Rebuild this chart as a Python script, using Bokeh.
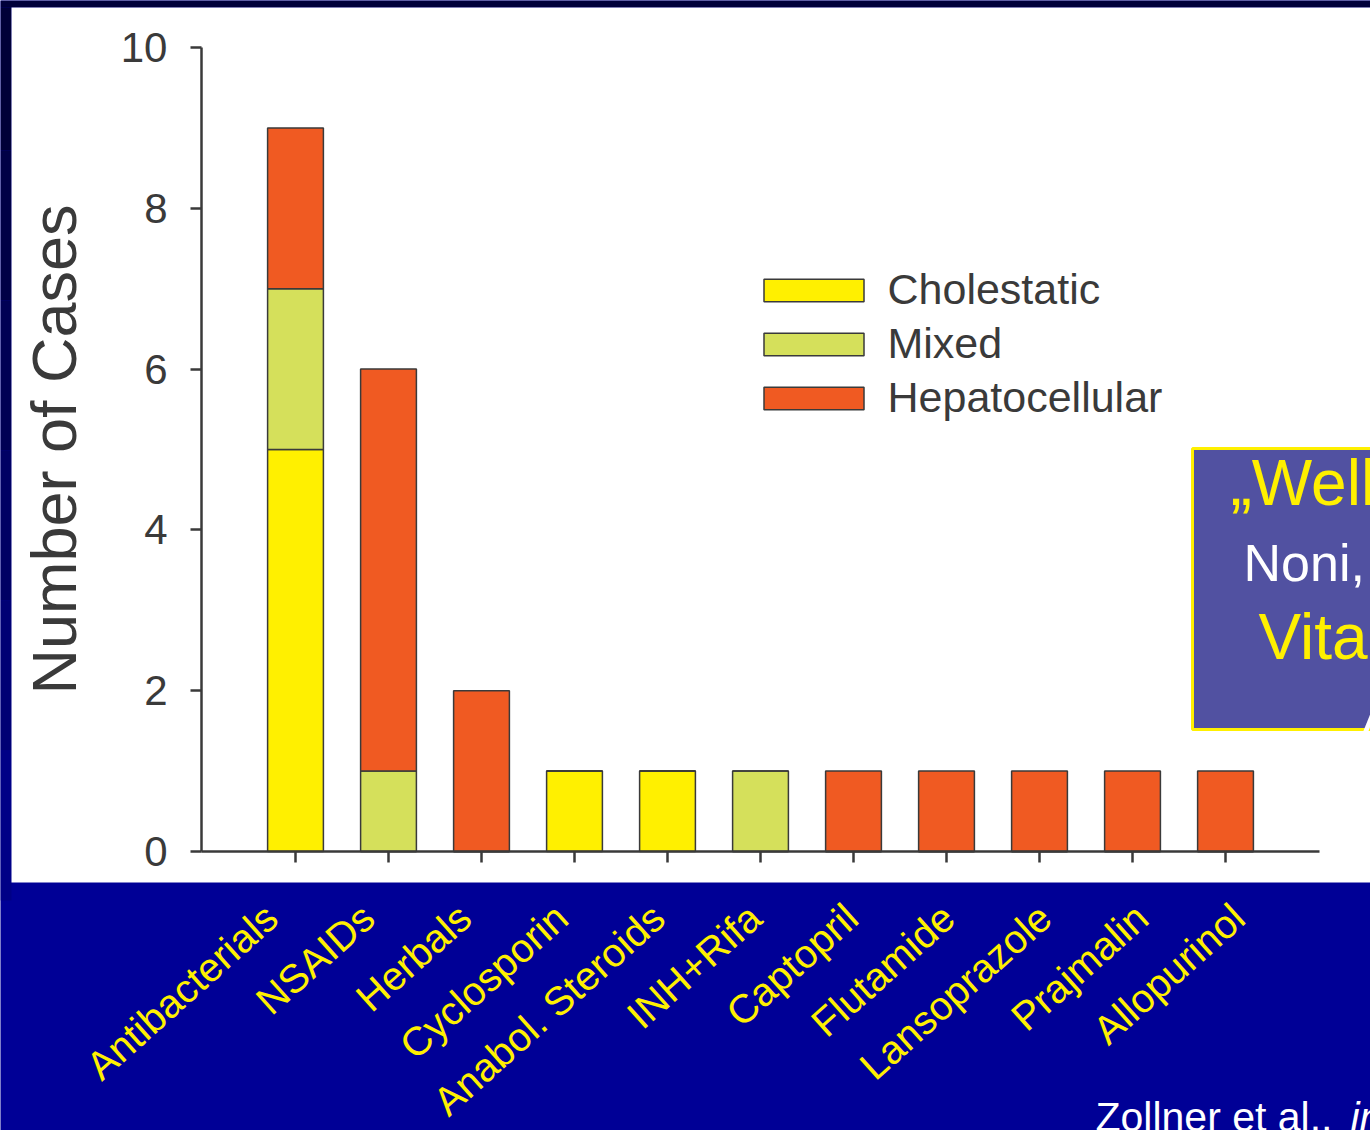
from bokeh.plotting import figure
from bokeh.models import (ColumnDataSource, Range1d, BoxAnnotation, Label,
                          Legend, LegendItem, FixedTicker, LinearAxis)
from bokeh.embed import file_html
from bokeh.resources import INLINE

categories = ["Antibacterials", "NSAIDs", "Herbals", "Cyclosporin", "Anabol. Steroids",
              "INH+Rifa", "Captopril", "Flutamide", "Lansoprazole", "Prajmalin", "Allopurinol"]
cholestatic = [5, 0, 0, 1, 1, 0, 0, 0, 0, 0, 0]
mixed = [2, 1, 0, 0, 0, 1, 0, 0, 0, 0, 0]
hepatocellular = [2, 5, 2, 0, 0, 0, 1, 1, 1, 1, 1]
series = ["Cholestatic", "Mixed", "Hepatocellular"]
colors = ["#FFF000", "#D5E05B", "#F05A22"]
y_ticks = [0, 2, 4, 6, 8, 10]

FONT = "Liberation Sans"
AX = "#3a3a3a"
BG = "#000096"

positions = list(range(len(categories)))
src = ColumnDataSource(dict(pos=positions, Cholestatic=cholestatic, Mixed=mixed,
                            Hepatocellular=hepatocellular))

W, H = 1370, 1130
p = figure(width=W, height=H,
           x_range=Range1d(-3.172, 11.559),
           y_range=Range1d(-3.4701, 10.5846),
           output_backend="svg", toolbar_location=None,
           min_border_left=0, min_border_right=0, min_border_top=0,
           min_border_bottom=0, x_axis_type=None, y_axis_type=None)
p.border_fill_color = BG
p.background_fill_color = BG
p.outline_line_color = None
p.xgrid.visible = False
p.ygrid.visible = False

# slide background: darker strip on top and on the left
p.add_layout(BoxAnnotation(left=0, right=W, top=0, bottom=7,
                           left_units="canvas", right_units="canvas",
                           top_units="canvas", bottom_units="canvas",
                           fill_color="#00003a", fill_alpha=1.0, line_color=None,
                           level="image"))
strip = [(7, 150, "#000038"), (150, 300, "#000046"), (300, 450, "#000054"),
         (450, 600, "#000064"), (600, 750, "#000074"), (750, 900, "#000086")]
for t, b, c in strip:
    p.add_layout(BoxAnnotation(left=0, right=11, top=t, bottom=b,
                               left_units="canvas", right_units="canvas",
                               top_units="canvas", bottom_units="canvas",
                               fill_color=c, fill_alpha=1.0, line_color=None,
                               level="image"))
# white slide panel
p.add_layout(BoxAnnotation(left=11, right=W, top=7, bottom=882,
                           left_units="canvas", right_units="canvas",
                           top_units="canvas", bottom_units="canvas",
                           fill_color="white", fill_alpha=1.0, line_color=None,
                           level="image"))

rs = p.vbar_stack(series, x="pos", width=0.6, source=src, fill_color=colors,
                  line_color=AX, line_width=1.5)

# y axis
yax = LinearAxis(fixed_location=-1.0108, bounds=(0, 10), ticker=FixedTicker(ticks=y_ticks))
yax.axis_line_color = AX
yax.axis_line_width = 2.5
yax.major_tick_line_color = AX
yax.major_tick_line_width = 2.5
yax.major_tick_out = 11
yax.major_tick_in = 0
yax.minor_tick_line_color = None
yax.major_label_text_font = FONT
yax.major_label_text_font_size = "42px"
yax.major_label_text_color = AX
yax.major_label_standoff = 23
yax.axis_label = "Number of Cases"
yax.axis_label_text_font = FONT
yax.axis_label_text_font_size = "63px"
yax.axis_label_text_font_style = "normal"
yax.axis_label_text_color = AX
yax.axis_label_standoff = 29

# x axis line with tick marks (no labels)
xax = LinearAxis(fixed_location=0, bounds=(-1.0108, 11.0108),
                 ticker=FixedTicker(ticks=[], minor_ticks=positions))
xax.axis_line_color = AX
xax.axis_line_width = 2.5
xax.major_tick_line_color = None
xax.minor_tick_line_color = AX
xax.minor_tick_line_width = 2.5
xax.minor_tick_out = 11
xax.minor_tick_in = 0

# category labels (on the blue area, below the white panel; slightly wider spacing)
p.extra_x_ranges = {"labels": Range1d(-2.802, 11.366)}
lax = LinearAxis(x_range_name="labels", fixed_location=-0.3856,
                 ticker=FixedTicker(ticks=positions),
                 major_label_overrides={i: c for i, c in zip(positions, categories)})
lax.axis_line_color = None
lax.major_tick_line_color = None
lax.minor_tick_line_color = None
lax.major_tick_out = 0
lax.major_tick_in = 0
lax.major_label_text_font = FONT
lax.major_label_text_font_size = "40px"
lax.major_label_text_color = "#FFF000"
lax.major_label_orientation = 0.73
lax.major_label_standoff = 29

p.add_layout(yax, "left")
p.add_layout(xax, "below")
p.add_layout(lax, "below")

legend = Legend(items=[LegendItem(label=s, renderers=[r]) for s, r in zip(series, rs)],
                location=(750.5, 708), padding=0, margin=0, spacing=5,
                glyph_width=125, glyph_height=28, label_standoff=12,
                label_text_font=FONT, label_text_font_size="43px",
                label_text_color=AX, border_line_alpha=0, background_fill_alpha=0)
p.add_layout(legend)

# callout box on the right
p.add_layout(BoxAnnotation(left=1192, right=W + 20, top=448, bottom=729,
                           left_units="canvas", right_units="canvas",
                           top_units="canvas", bottom_units="canvas",
                           fill_color="#5151A1", fill_alpha=1.0, line_color="#FFF000",
                           line_alpha=1.0, line_width=3, level="overlay"))

callout = [("\u201eWell", 1230, 482, "64px", "#FFF000", "normal"),
           ("Noni,", 1243, 562, "52px", "white", "normal"),
           ("Vita", 1258, 636, "64px", "#FFF000", "normal"),
           ("A", 1360, 719, "52px", "white", "normal"),
           ("Zollner et al.,", 1095, 1116, "41px", "white", "normal"),
           ("in", 1350, 1116, "41px", "white", "italic")]
for t, x, y, fs, c, st in callout:
    p.add_layout(Label(x=x, y=y, x_units="canvas", y_units="canvas", text=t,
                       text_font=FONT, text_font_size=fs, text_color=c,
                       text_font_style=st, text_baseline="alphabetic",
                       level="overlay"))

open("out.html", "w").write(file_html(p, INLINE))
